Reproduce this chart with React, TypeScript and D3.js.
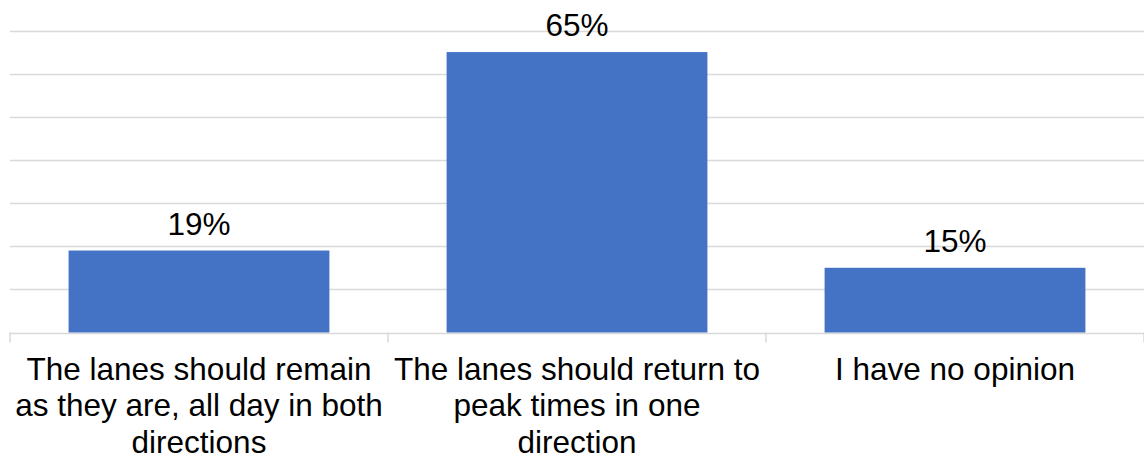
import React from "react";
import * as d3 from "d3";

const categories = [
  "The lanes should remain\nas they are, all day in both\ndirections",
  "The lanes should return to\npeak times in one\ndirection",
  "I have no opinion",
];
const values = [19, 65, 15];
const gridTicks = [0, 10, 20, 30, 40, 50, 60, 70];

const W = 1144;
const H = 457;
const left = 10;
const right = 1144;
const baseline = 332.5;
const top = 30.5;

export default function App() {
  const x = d3.scaleBand<string>().domain(categories).range([left, right]).padding(0);
  const y = d3.scaleLinear().domain([0, 70]).range([baseline, top]);
  const barW = x.bandwidth() * 0.69;
  const font = "'Liberation Sans', Arial, sans-serif";

  return (
    <svg
      width={W}
      height={H}
      style={{ position: "absolute", left: 0, top: 0, background: "#fff" }}
      fontFamily={font}
    >
      {gridTicks.map((t) => (
        <line
          key={t}
          x1={left}
          x2={right}
          y1={Math.round(y(t)) + 0.5}
          y2={Math.round(y(t)) + 0.5}
          stroke="#d9d9d9"
          strokeWidth={1.5}
        />
      ))}
      {[...categories.map((c) => x(c)!), right].map((px, i) => (
        <line
          key={i}
          x1={px}
          x2={px}
          y1={baseline}
          y2={baseline + 10}
          stroke="#d9d9d9"
          strokeWidth={1.5}
        />
      ))}
      {categories.map((c, i) => {
        const cx = x(c)! + x.bandwidth() / 2;
        return (
          <g key={c}>
            <rect
              x={cx - barW / 2}
              y={y(values[i])}
              width={barW}
              height={baseline - y(values[i])}
              fill="#4472c4"
            />
            <text x={cx} y={y(values[i]) - 16} textAnchor="middle" fontSize={31.5} fill="#000">
              {values[i]}%
            </text>
            <text textAnchor="middle" fontSize={31.5} fill="#000">
              {c.split("\n").map((ln, j) => (
                <tspan key={j} x={cx} y={380 + j * 36.4}>
                  {ln}
                </tspan>
              ))}
            </text>
          </g>
        );
      })}
    </svg>
  );
}
